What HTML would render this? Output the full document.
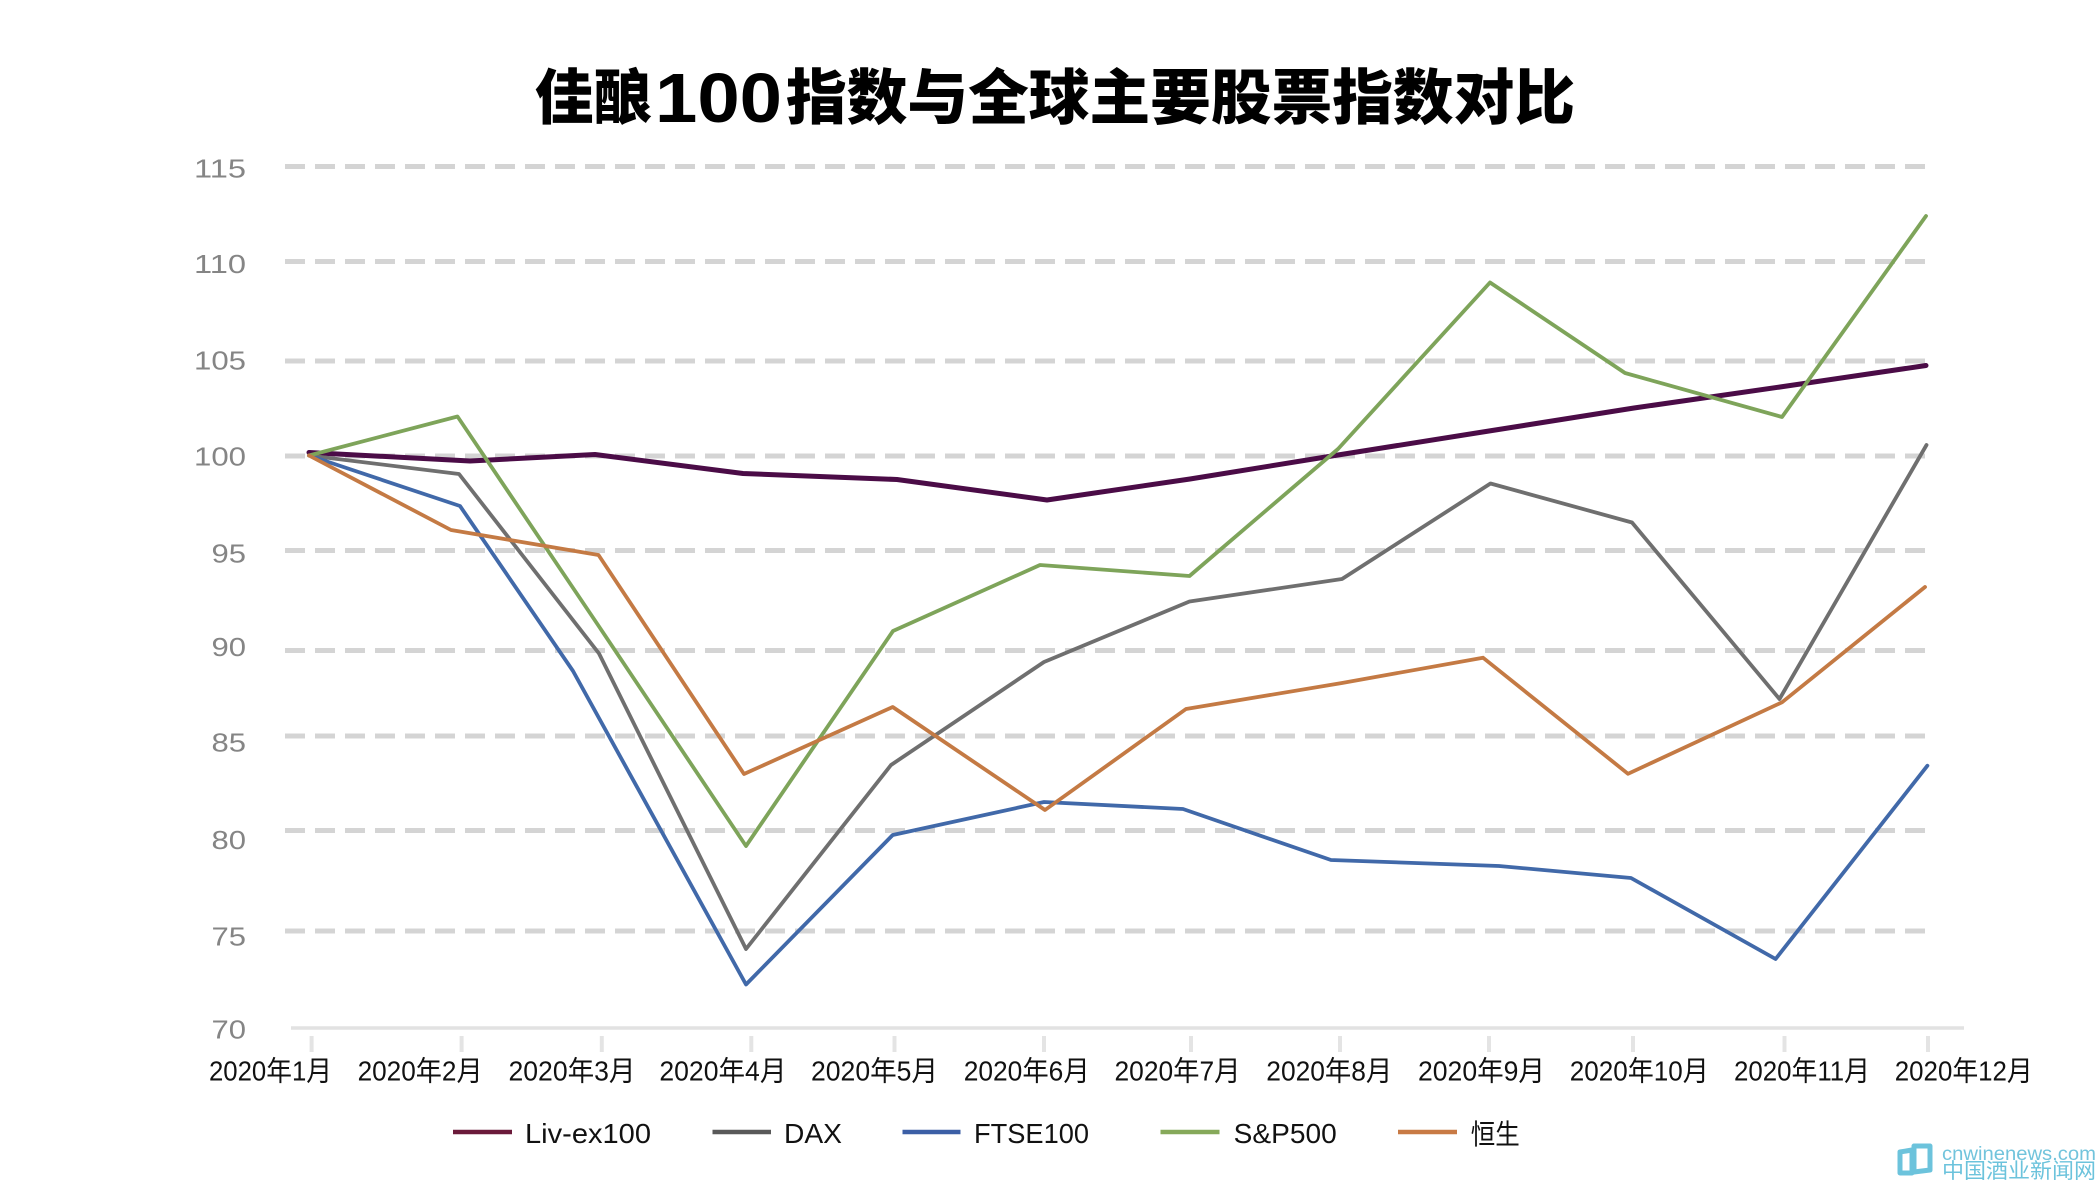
<!DOCTYPE html>
<html><head><meta charset="utf-8"><style>
html,body{margin:0;padding:0;background:#fff;}
svg{display:block;}
</style></head><body>
<svg width="2097" height="1180" viewBox="0 0 2097 1180" xmlns="http://www.w3.org/2000/svg">
<rect width="2097" height="1180" fill="#ffffff"/>
<!-- Title -->
<g font-family="'Noto Sans CJK SC','WenQuanYi Zen Hei',sans-serif" font-weight="900" fill="#000">
<text x="535" y="119" font-size="60" textLength="117" lengthAdjust="spacingAndGlyphs">佳酿</text>
<text x="655" y="122" font-size="70" font-family="'Liberation Sans',sans-serif" font-weight="700" textLength="127" lengthAdjust="spacingAndGlyphs">100</text>
<text x="786" y="119" font-size="60" textLength="789" lengthAdjust="spacingAndGlyphs">指数与全球主要股票指数对比</text>
</g>
<!-- Grid -->
<g stroke="#d4d4d4" stroke-width="5" stroke-dasharray="20 10" fill="none">
<line x1="285" y1="166.5" x2="1926" y2="166.5"/>
<line x1="285" y1="261.5" x2="1926" y2="261.5"/>
<line x1="285" y1="361" x2="1926" y2="361"/>
<line x1="285" y1="456" x2="1926" y2="456"/>
<line x1="285" y1="550.5" x2="1926" y2="550.5"/>
<line x1="285" y1="650.5" x2="1926" y2="650.5"/>
<line x1="285" y1="736" x2="1926" y2="736"/>
<line x1="285" y1="830.5" x2="1926" y2="830.5"/>
<line x1="285" y1="931" x2="1926" y2="931"/>
</g>
<!-- Axis -->
<line x1="291" y1="1028" x2="1964" y2="1028" stroke="#e2e2e2" stroke-width="3.5"/>
<g stroke="#e4e4e4" stroke-width="4">
<line x1="311.6" y1="1036" x2="311.6" y2="1052"/>
<line x1="461.6" y1="1036" x2="461.6" y2="1052"/>
<line x1="601.8" y1="1036" x2="601.8" y2="1052"/>
<line x1="751.3" y1="1036" x2="751.3" y2="1052"/>
<line x1="894.5" y1="1036" x2="894.5" y2="1052"/>
<line x1="1044" y1="1036" x2="1044" y2="1052"/>
<line x1="1191" y1="1036" x2="1191" y2="1052"/>
<line x1="1340" y1="1036" x2="1340" y2="1052"/>
<line x1="1489" y1="1036" x2="1489" y2="1052"/>
<line x1="1633" y1="1036" x2="1633" y2="1052"/>
<line x1="1784.5" y1="1036" x2="1784.5" y2="1052"/>
<line x1="1928" y1="1036" x2="1928" y2="1052"/>
</g>
<!-- Y labels -->
<g font-family="'Liberation Sans',sans-serif" font-size="26" fill="#858585">
<text x="194" y="177.5" textLength="52" lengthAdjust="spacingAndGlyphs">115</text>
<text x="194" y="273" textLength="52" lengthAdjust="spacingAndGlyphs">110</text>
<text x="194" y="369.5" textLength="52" lengthAdjust="spacingAndGlyphs">105</text>
<text x="194" y="465.5" textLength="52" lengthAdjust="spacingAndGlyphs">100</text>
<text x="211.5" y="562.5" textLength="34.5" lengthAdjust="spacingAndGlyphs">95</text>
<text x="211.5" y="656" textLength="34.5" lengthAdjust="spacingAndGlyphs">90</text>
<text x="211.5" y="751.5" textLength="34.5" lengthAdjust="spacingAndGlyphs">85</text>
<text x="211.5" y="849" textLength="34.5" lengthAdjust="spacingAndGlyphs">80</text>
<text x="211.5" y="945.5" textLength="34.5" lengthAdjust="spacingAndGlyphs">75</text>
<text x="211.5" y="1038.5" textLength="34.5" lengthAdjust="spacingAndGlyphs">70</text>
</g>
<!-- X labels -->
<g font-family="'Liberation Sans','Noto Sans CJK SC',sans-serif" font-size="28" fill="#111">
<text x="209" y="1080.5" textLength="123" lengthAdjust="spacingAndGlyphs">2020年1月</text>
<text x="357.6" y="1080.5" textLength="125" lengthAdjust="spacingAndGlyphs">2020年2月</text>
<text x="508.5" y="1080.5" textLength="127" lengthAdjust="spacingAndGlyphs">2020年3月</text>
<text x="659.4" y="1080.5" textLength="127" lengthAdjust="spacingAndGlyphs">2020年4月</text>
<text x="811" y="1080.5" textLength="127" lengthAdjust="spacingAndGlyphs">2020年5月</text>
<text x="963.7" y="1080.5" textLength="126" lengthAdjust="spacingAndGlyphs">2020年6月</text>
<text x="1114.5" y="1080.5" textLength="126" lengthAdjust="spacingAndGlyphs">2020年7月</text>
<text x="1266.3" y="1080.5" textLength="126" lengthAdjust="spacingAndGlyphs">2020年8月</text>
<text x="1418" y="1080.5" textLength="127" lengthAdjust="spacingAndGlyphs">2020年9月</text>
<text x="1569.8" y="1080.5" textLength="139" lengthAdjust="spacingAndGlyphs">2020年10月</text>
<text x="1734" y="1080.5" textLength="136" lengthAdjust="spacingAndGlyphs">2020年11月</text>
<text x="1894.8" y="1080.5" textLength="138" lengthAdjust="spacingAndGlyphs">2020年12月</text>
</g>
<!-- Series -->
<g fill="none" stroke-linejoin="round" stroke-linecap="round">
<polyline stroke="#4b0c47" stroke-width="5" points="309,452.5 470,461 595,454.5 743,473.5 897,479.5 1047,500 1190,479 1338,455 1489,431 1634,408 1780,387 1926,365.5"/>
<polyline stroke="#6f6f6f" stroke-width="3.8" points="309,455.5 459,474 599,653.5 746,949 891,765 1044,662 1189.5,601.5 1342,579 1490.5,483.5 1632,522.5 1779.5,699 1926.5,445"/>
<polyline stroke="#4169a9" stroke-width="3.8" points="309,455.5 460,506 573,671 746,984.5 892.7,835 1044,802 1183,809 1331,860 1499,866 1631,878 1775.6,959 1927.4,765.7"/>
<polyline stroke="#7ea45a" stroke-width="3.8" points="309,455.5 457.5,416.5 598,625 746,846 893,631 1040,565 1189.5,576 1338,449 1490,282.5 1625,373 1782,417 1926,216"/>
<polyline stroke="#c47a44" stroke-width="3.8" points="309,455.5 451,530 598.5,555 744,774 892.7,707 1045,810 1186,709 1342,683 1483,657.7 1628,773.8 1782,702.3 1925,587"/>
</g>
<!-- Legend -->
<g stroke-width="4.5">
<line x1="453" y1="1132" x2="512" y2="1132" stroke="#6b1a3a"/>
<line x1="712.5" y1="1132" x2="771" y2="1132" stroke="#595959"/>
<line x1="902.5" y1="1132" x2="960.5" y2="1132" stroke="#3c5fa6"/>
<line x1="1160.5" y1="1132" x2="1219.5" y2="1132" stroke="#86a95a"/>
<line x1="1398" y1="1132" x2="1457" y2="1132" stroke="#c87a45"/>
</g>
<g font-family="'Liberation Sans','Noto Sans CJK SC',sans-serif" font-size="28" fill="#111">
<text x="525" y="1143" textLength="126" lengthAdjust="spacingAndGlyphs">Liv-ex100</text>
<text x="784" y="1143" textLength="58" lengthAdjust="spacingAndGlyphs">DAX</text>
<text x="974" y="1143" textLength="115" lengthAdjust="spacingAndGlyphs">FTSE100</text>
<text x="1233.7" y="1143" textLength="103" lengthAdjust="spacingAndGlyphs">S&amp;P500</text>
<text x="1470.8" y="1144" textLength="49" lengthAdjust="spacingAndGlyphs">恒生</text>
</g>
<!-- Watermark -->
<g fill="none" stroke="#6cc3dc" stroke-width="5" stroke-linejoin="round">
<path d="M1900,1152 L1912,1150 L1912,1173 L1900,1173 Z"/>
<path d="M1914,1146 L1930,1146 L1930,1170 L1914,1172 Z"/>
</g>
<text x="1942" y="1160" font-family="'Liberation Sans',sans-serif" font-size="19" fill="#72c4dc" textLength="154" lengthAdjust="spacingAndGlyphs">cnwinenews.com</text>
<text x="1942" y="1178" font-family="'Noto Sans CJK SC',sans-serif" font-size="21" fill="#6cc3dc" textLength="154" lengthAdjust="spacingAndGlyphs">中国酒业新闻网</text>
</svg>
</body></html>
